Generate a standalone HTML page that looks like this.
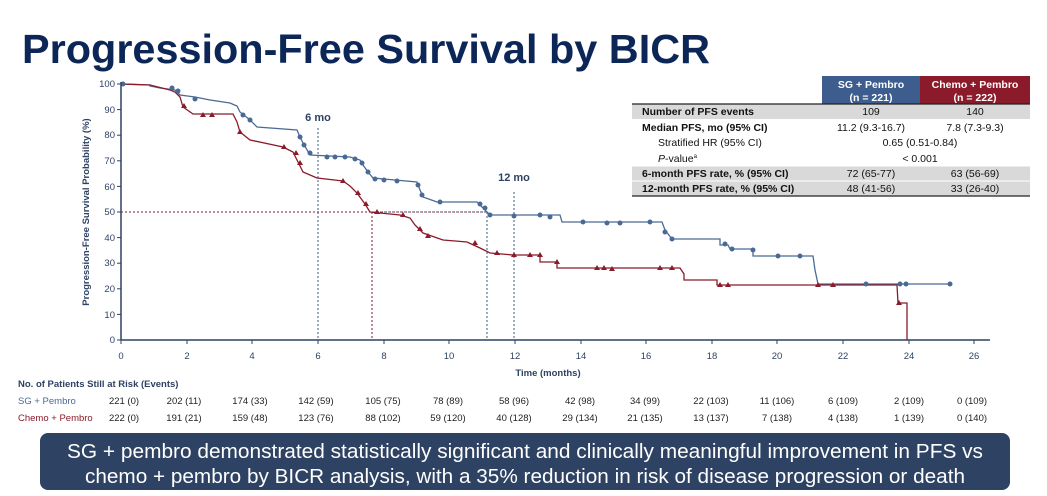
<!DOCTYPE html>
<html><head><meta charset="utf-8"><style>
html,body{margin:0;padding:0;background:#fff;width:1047px;height:496px;overflow:hidden}
svg{display:block;font-family:"Liberation Sans",Arial,sans-serif}
</style></head><body>
<svg width="1047" height="496" viewBox="0 0 1047 496" xmlns="http://www.w3.org/2000/svg">
<text x="22" y="63" font-size="41" font-weight="bold" fill="#0c2757" textLength="688" lengthAdjust="spacingAndGlyphs">Progression-Free Survival by BICR</text>

<!-- reference lines -->
<g stroke-dasharray="2,2" stroke-width="1">
<line x1="121" y1="212" x2="487" y2="212" stroke="#8b1a2a"/>
<line x1="372" y1="212" x2="487" y2="212" stroke="#3d5a85"/>
<line x1="318" y1="128" x2="318" y2="340" stroke="#3d5a85"/>
<line x1="514" y1="192" x2="514" y2="340" stroke="#3d5a85"/>
<line x1="487" y1="212" x2="487" y2="340" stroke="#3d5a85"/>
<line x1="372" y1="212" x2="372" y2="340" stroke="#8b1a2a"/>
</g>
<text x="318" y="121" font-size="11" font-weight="bold" fill="#2e4263" text-anchor="middle">6 mo</text>
<text x="514" y="181" font-size="11" font-weight="bold" fill="#2e4263" text-anchor="middle">12 mo</text>

<!-- curves -->
<polyline fill="none" stroke="#4a6a96" stroke-width="1.3" points="121,84 150,85 150,86 160,88 175,90 180,95 195,97 210,100 230,103 237,106 240,112 250,120 257,127 297,130 300,137 303,143 310,155 350,157 360,160 363,165 368,172 373,178 417,182 420,190 423,197 437,202 477,202 482,207 487,212 490,215 560,215 562,222 662,222 665,230 672,239 720,239 720,245 728,245 730,249 753,249 753,256 813,256 815,270 818,284 950,284"/>
<polyline fill="none" stroke="#8b1a2a" stroke-width="1.3" points="121,84 150,85 170,90 175,92 180,97 183,107 193,114 233,114 237,122 240,132 250,140 283,147 293,152 298,162 303,172 317,178 343,181 350,186 357,193 365,204 370,212 400,215 410,218 415,225 423,233 443,240 467,242 480,248 490,253 513,255 540,255 540,262 557,262 557,268 680,268 684,274 684,280 717,280 717,285 897,285 898,303 907,303 907,340"/>
<g fill="#4a6a96">
<circle cx="123" cy="84" r="2.5"/><circle cx="172" cy="88" r="2.5"/><circle cx="178" cy="91" r="2.5"/><circle cx="195" cy="99" r="2.5"/><circle cx="243" cy="115" r="2.5"/><circle cx="250" cy="120" r="2.5"/><circle cx="300" cy="137" r="2.5"/><circle cx="304" cy="145" r="2.5"/><circle cx="310" cy="153" r="2.5"/><circle cx="327" cy="157" r="2.5"/><circle cx="335" cy="157" r="2.5"/><circle cx="345" cy="157" r="2.5"/><circle cx="355" cy="159" r="2.5"/><circle cx="362" cy="163" r="2.5"/><circle cx="368" cy="172" r="2.5"/><circle cx="375" cy="179" r="2.5"/><circle cx="384" cy="180" r="2.5"/><circle cx="397" cy="181" r="2.5"/><circle cx="418" cy="185" r="2.5"/><circle cx="422" cy="195" r="2.5"/><circle cx="440" cy="202" r="2.5"/><circle cx="480" cy="204" r="2.5"/><circle cx="485" cy="208" r="2.5"/><circle cx="490" cy="215" r="2.5"/><circle cx="514" cy="216" r="2.5"/><circle cx="540" cy="215" r="2.5"/><circle cx="550" cy="217" r="2.5"/><circle cx="583" cy="222" r="2.5"/><circle cx="607" cy="223" r="2.5"/><circle cx="620" cy="223" r="2.5"/><circle cx="650" cy="222" r="2.5"/><circle cx="665" cy="232" r="2.5"/><circle cx="672" cy="239" r="2.5"/><circle cx="725" cy="244" r="2.5"/><circle cx="732" cy="249" r="2.5"/><circle cx="753" cy="250" r="2.5"/><circle cx="778" cy="256" r="2.5"/><circle cx="800" cy="256" r="2.5"/><circle cx="866" cy="284" r="2.5"/><circle cx="900" cy="284" r="2.5"/><circle cx="906" cy="284" r="2.5"/><circle cx="950" cy="284" r="2.5"/>
</g>
<g fill="#8b1a2a">
<path d="M184,103l3,5h-6z M203,112l3,5h-6z M212,112l3,5h-6z M240,129l3,5h-6z M284,144l3,5h-6z M296,150l3,5h-6z M300,160l3,5h-6z M343,178l3,5h-6z M358,190l3,5h-6z M366,201l3,5h-6z M377,209l3,5h-6z M403,212l3,5h-6z M420,226l3,5h-6z M428,233l3,5h-6z M475,240l3,5h-6z M497,250l3,5h-6z M514,252l3,5h-6z M530,252l3,5h-6z M540,252l3,5h-6z M557,259l3,5h-6z M597,265l3,5h-6z M604,265l3,5h-6z M612,266l3,5h-6z M660,265l3,5h-6z M672,265l3,5h-6z M720,282l3,5h-6z M728,282l3,5h-6z M818,282l3,5h-6z M833,282l3,5h-6z M899,300l3,5h-6z"/>
</g>

<!-- axes -->
<line x1="121" y1="82" x2="121" y2="340" stroke="#2e4263" stroke-width="1.5"/>
<line x1="121" y1="340" x2="990" y2="340" stroke="#2e4263" stroke-width="1.5"/>
<g stroke="#2e4263" stroke-width="1">
<line x1="117" y1="84" x2="121" y2="84"/><line x1="117" y1="109.6" x2="121" y2="109.6"/><line x1="117" y1="135.2" x2="121" y2="135.2"/><line x1="117" y1="160.8" x2="121" y2="160.8"/><line x1="117" y1="186.4" x2="121" y2="186.4"/><line x1="117" y1="212" x2="121" y2="212"/><line x1="117" y1="237.6" x2="121" y2="237.6"/><line x1="117" y1="263.2" x2="121" y2="263.2"/><line x1="117" y1="288.8" x2="121" y2="288.8"/><line x1="117" y1="314.4" x2="121" y2="314.4"/><line x1="117" y1="340" x2="121" y2="340"/>
</g>
<g font-size="9.5" fill="#2e4263" text-anchor="end">
<text x="115" y="87">100</text><text x="115" y="113">90</text><text x="115" y="138">80</text><text x="115" y="164">70</text><text x="115" y="190">60</text><text x="115" y="215">50</text><text x="115" y="241">40</text><text x="115" y="266">30</text><text x="115" y="292">20</text><text x="115" y="318">10</text><text x="115" y="343">0</text>
</g>
<g stroke="#2e4263"><path d="M121,340v4M187,340v4M252,340v4M318,340v4M384,340v4M449,340v4M515,340v4M581,340v4M646,340v4M712,340v4M777,340v4M843,340v4M909,340v4M974,340v4"/></g>
<g font-size="9.5" fill="#2e4263" text-anchor="middle">
<text x="121" y="359">0</text><text x="187" y="359">2</text><text x="252" y="359">4</text><text x="318" y="359">6</text><text x="384" y="359">8</text><text x="449" y="359">10</text><text x="515" y="359">12</text><text x="581" y="359">14</text><text x="646" y="359">16</text><text x="712" y="359">18</text><text x="777" y="359">20</text><text x="843" y="359">22</text><text x="909" y="359">24</text><text x="974" y="359">26</text>
</g>
<text x="548" y="376" font-size="9.5" font-weight="bold" fill="#2e4263" text-anchor="middle">Time (months)</text>
<text transform="translate(89,212) rotate(-90)" font-size="9.5" font-weight="bold" fill="#2e4263" text-anchor="middle">Progression-Free Survival Probability (%)</text>

<!-- table -->
<rect x="822" y="76" width="98" height="28" fill="#3d5d8f"/>
<rect x="920" y="76" width="110" height="28" fill="#8b1a2a"/>
<g font-size="10.5" font-weight="bold" fill="#fff" text-anchor="middle">
<text x="871" y="88">SG + Pembro</text><text x="871" y="101">(n = 221)</text>
<text x="975" y="88">Chemo + Pembro</text><text x="975" y="101">(n = 222)</text>
</g>
<rect x="632" y="104" width="398" height="15" fill="#d9d9d9"/>
<rect x="632" y="166" width="398" height="30" fill="#d9d9d9"/>
<line x1="632" y1="166" x2="1030" y2="166" stroke="#fff"/>
<line x1="632" y1="181" x2="1030" y2="181" stroke="#fff"/>
<line x1="632" y1="104" x2="1030" y2="104" stroke="#222" stroke-width="1.2"/>
<line x1="632" y1="196" x2="1030" y2="196" stroke="#222" stroke-width="1.2"/>
<g font-size="10.5" fill="#111">
<text x="642" y="115" font-weight="bold">Number of PFS events</text>
<text x="642" y="131" font-weight="bold">Median PFS, mo (95% CI)</text>
<text x="658" y="146">Stratified HR (95% CI)</text>
<text x="658" y="162" font-style="italic">P<tspan font-style="normal">-value</tspan><tspan font-size="6" dy="-4" font-style="normal">a</tspan></text>
<text x="642" y="177" font-weight="bold">6-month PFS rate, % (95% CI)</text>
<text x="642" y="192" font-weight="bold">12-month PFS rate, % (95% CI)</text>
</g>
<g font-size="10.5" fill="#111" text-anchor="middle">
<text x="871" y="115">109</text><text x="975" y="115">140</text>
<text x="871" y="131">11.2 (9.3-16.7)</text><text x="975" y="131">7.8 (7.3-9.3)</text>
<text x="920" y="146">0.65 (0.51-0.84)</text>
<text x="920" y="162">&lt; 0.001</text>
<text x="871" y="177">72 (65-77)</text><text x="975" y="177">63 (56-69)</text>
<text x="871" y="192">48 (41-56)</text><text x="975" y="192">33 (26-40)</text>
</g>

<!-- risk table -->
<text x="18" y="387" font-size="9.5" font-weight="bold" fill="#2e4263">No. of Patients Still at Risk (Events)</text>
<text x="18" y="404" font-size="9.5" fill="#4a6a96">SG + Pembro</text>
<text x="18" y="421" font-size="9.5" fill="#8b1a2a">Chemo + Pembro</text>
<g font-size="9.5" fill="#222" text-anchor="middle">
<text x="124" y="404">221 (0)</text><text x="184" y="404">202 (11)</text><text x="250" y="404">174 (33)</text><text x="316" y="404">142 (59)</text><text x="383" y="404">105 (75)</text><text x="448" y="404">78 (89)</text><text x="514" y="404">58 (96)</text><text x="580" y="404">42 (98)</text><text x="645" y="404">34 (99)</text><text x="711" y="404">22 (103)</text><text x="777" y="404">11 (106)</text><text x="843" y="404">6 (109)</text><text x="909" y="404">2 (109)</text><text x="972" y="404">0 (109)</text>
<text x="124" y="421">222 (0)</text><text x="184" y="421">191 (21)</text><text x="250" y="421">159 (48)</text><text x="316" y="421">123 (76)</text><text x="383" y="421">88 (102)</text><text x="448" y="421">59 (120)</text><text x="514" y="421">40 (128)</text><text x="580" y="421">29 (134)</text><text x="645" y="421">21 (135)</text><text x="711" y="421">13 (137)</text><text x="777" y="421">7 (138)</text><text x="843" y="421">4 (138)</text><text x="909" y="421">1 (139)</text><text x="972" y="421">0 (140)</text>
</g>

<!-- bottom box -->
<rect x="40" y="433" width="970" height="57" rx="8" fill="#2e4263"/>
<g font-size="20" fill="#fff" text-anchor="middle">
<text x="525" y="458" textLength="916" lengthAdjust="spacingAndGlyphs">SG + pembro demonstrated statistically significant and clinically meaningful improvement in PFS vs</text>
<text x="525" y="483" textLength="880" lengthAdjust="spacingAndGlyphs">chemo + pembro by BICR analysis, with a 35% reduction in risk of disease progression or death</text>
</g>
</svg>
</body></html>
